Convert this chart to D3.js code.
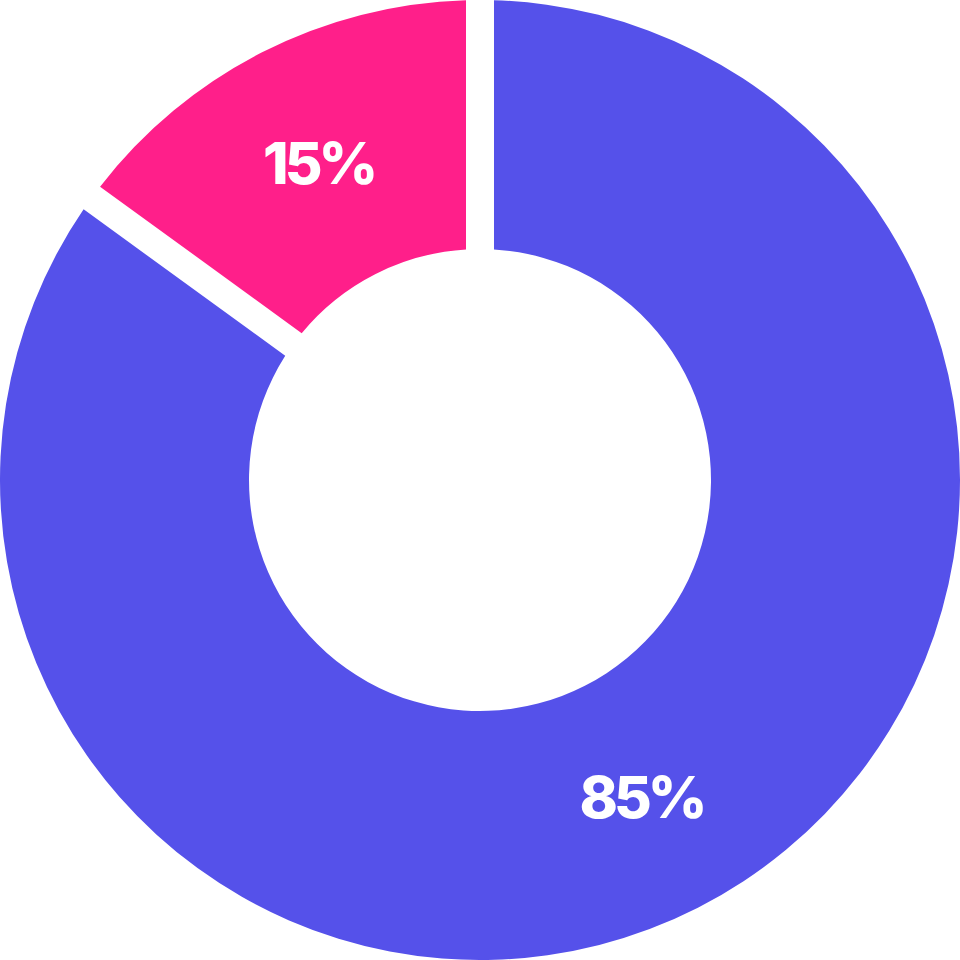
<!DOCTYPE html>
<html>
<head>
<meta charset="utf-8">
<script src="https://cdn.jsdelivr.net/npm/d3@7"></script>
<style>
    body { margin: 0; background: #fff; }
    svg { display: block; }
</style>
</head>
<body>
<svg id="chart" width="960" height="960"></svg>
<script>
let labels = ["Bleu", "Rose"];
let values = [85, 15];
let colors = ["#5551EA", "#FF1F8A"];

let width = 960;
let height = 960;
let outerR = 480;
let innerR = 231;
let gap = 28;

let svg = d3.select("#chart");
let body = svg.append("g")
    .attr("transform", "translate(" + width / 2 + "," + height / 2 + ")");

let pie = d3.pie()
    .sort(null)
    .value(d => d.value);

let data = labels.map((l, i) => ({label: l, value: values[i], color: colors[i]}));

let arc = d3.arc()
    .outerRadius(outerR)
    .innerRadius(innerR)
    .padRadius(outerR)
    .padAngle(gap / outerR);

let labelArc = d3.arc()
    .outerRadius(outerR)
    .innerRadius(innerR);

let g = body.selectAll(".arc")
    .data(pie(data))
    .enter()
    .append("g")
    .attr("class", "arc");

g.append("path")
    .attr("d", arc)
    .attr("fill", d => d.data.color);

g.append("text")
    .attr("transform", d => "translate(" + labelArc.centroid(d) + ")")
    .attr("text-anchor", "middle")
    .attr("dominant-baseline", "central")
    .attr("fill", "white")
    .style("font-family", "Inter, sans-serif")
    .style("font-weight", 800)
    .style("font-size", "58px")
    .style("letter-spacing", "-4px")
    .text(d => d.data.value + "%");
</script>
</body>
</html>
